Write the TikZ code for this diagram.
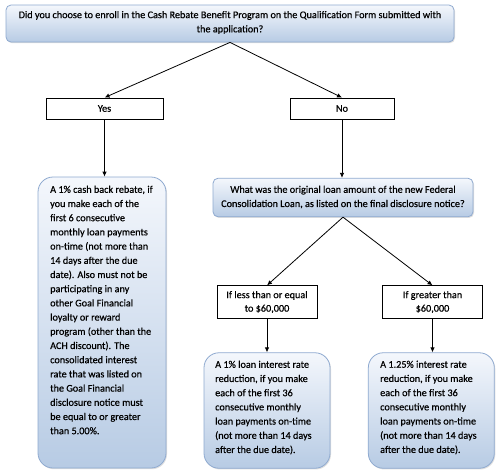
\documentclass[tikz,border=0pt]{standalone}
\usepackage{fontspec}
\setmainfont{Carlito}[FakeBold=0.5]
\usetikzlibrary{arrows.meta,shadows}
\definecolor{boxtop}{HTML}{F4F7FC}
\definecolor{boxbot}{HTML}{B7CBE4}
\definecolor{boxline}{HTML}{8FAAD0}
\tikzset{
  bluebox/.style={draw=boxline, line width=0.8pt, top color=boxtop, bottom color=boxbot,
    drop shadow={shadow xshift=1pt, shadow yshift=-1.2pt, opacity=0.25}},
  plainbox/.style={draw=black, line width=0.8pt, fill=white, align=center, inner sep=0pt},
  txt/.style={inner sep=0pt, align=left, font=\fontsize{10.2}{14.2}\selectfont},
  ctxt/.style={inner sep=0pt, align=center, font=\fontsize{10.2}{14.2}\selectfont},
  conn/.style={line width=0.8pt, -{Latex[length=5pt,width=4.5pt]}},
}
\begin{document}
\begin{tikzpicture}[x=1pt,y=-1pt]
\useasboundingbox[fill=white] (0,0) rectangle (500,475);
% top question
\node[bluebox, rounded corners=5pt, minimum width=448pt, minimum height=37pt] (q1) at (230,23.5) {};
\node[ctxt] (q1t) at (230,22.5) {Did you choose to enroll in the Cash Rebate Benefit Program on the Qualification Form submitted with\\the application?};
% yes / no
\node[plainbox, minimum width=117pt, minimum height=21pt, font=\fontsize{10.2}{14.2}\selectfont] (yes) at (104.5,108.5) {Yes};
\node[plainbox, minimum width=104pt, minimum height=21pt, font=\fontsize{10.2}{14.2}\selectfont] (no) at (342,108.5) {No};
% cash rebate box
\node[bluebox, rounded corners=15pt, minimum width=128pt, minimum height=291pt] (cash) at (102,322.5) {};
\node[txt, anchor=north west] (casht) at (50,185.5) {A 1\% cash back rebate, if\\you make each of the\\first 6 consecutive\\monthly loan payments\\on-time (not more than\\14 days after the due\\date). Also must not be\\participating in any\\other Goal Financial\\loyalty or reward\\program (other than the\\ACH discount). The\\consolidated interest\\rate that was listed on\\the Goal Financial\\disclosure notice must\\be equal to or greater\\than 5.00\%.};
% second question
\node[bluebox, rounded corners=5pt, minimum width=260pt, minimum height=38.5pt] (q2) at (343,197.5) {};
\node[ctxt] (q2t) at (343,197) {What was the original loan amount of the new Federal\\Consolidation Loan, as listed on the final disclosure notice?};
% amount boxes
\node[plainbox, minimum width=100pt, minimum height=32.5pt, font=\fontsize{10.2}{13.5}\selectfont] (less) at (267,302) {If less than or equal\\to \$60,000};
\node[plainbox, minimum width=100pt, minimum height=32.5pt, font=\fontsize{10.2}{13.5}\selectfont] (more) at (432.5,302) {If greater than\\\$60,000};
% bottom boxes
\node[bluebox, rounded corners=15pt, minimum width=126pt, minimum height=115.5pt] (r1) at (267,410.5) {};
\node[txt, anchor=north west] (r1t) at (215,360.5) {A 1\% loan interest rate\\reduction, if you make\\each of the first 36\\consecutive monthly\\loan payments on-time\\(not more than 14 days\\after the due date).};
\node[bluebox, rounded corners=15pt, minimum width=126pt, minimum height=115.5pt] (r2) at (431.3,410.5) {};
\node[txt, anchor=north west] (r2t) at (380,360.5) {A 1.25\% interest rate\\reduction, if you make\\each of the first 36\\consecutive monthly\\loan payments on-time\\(not more than 14 days\\after the due date).};
% connectors
\draw[conn] (q1.south) -- (yes.north);
\draw[conn] (q1.south) -- (no.north);
\draw[conn] (yes.south) -- (yes.south |- cash.north);
\draw[conn] (no.south) -- (no.south |- q2.north);
\draw[conn] (q2.south) -- (less.north);
\draw[conn] (q2.south) -- (more.north);
\draw[conn] (less.south) -- (less.south |- r1.north);
\draw[conn] (more.south) -- (more.south |- r2.north);
\end{tikzpicture}
\end{document}
